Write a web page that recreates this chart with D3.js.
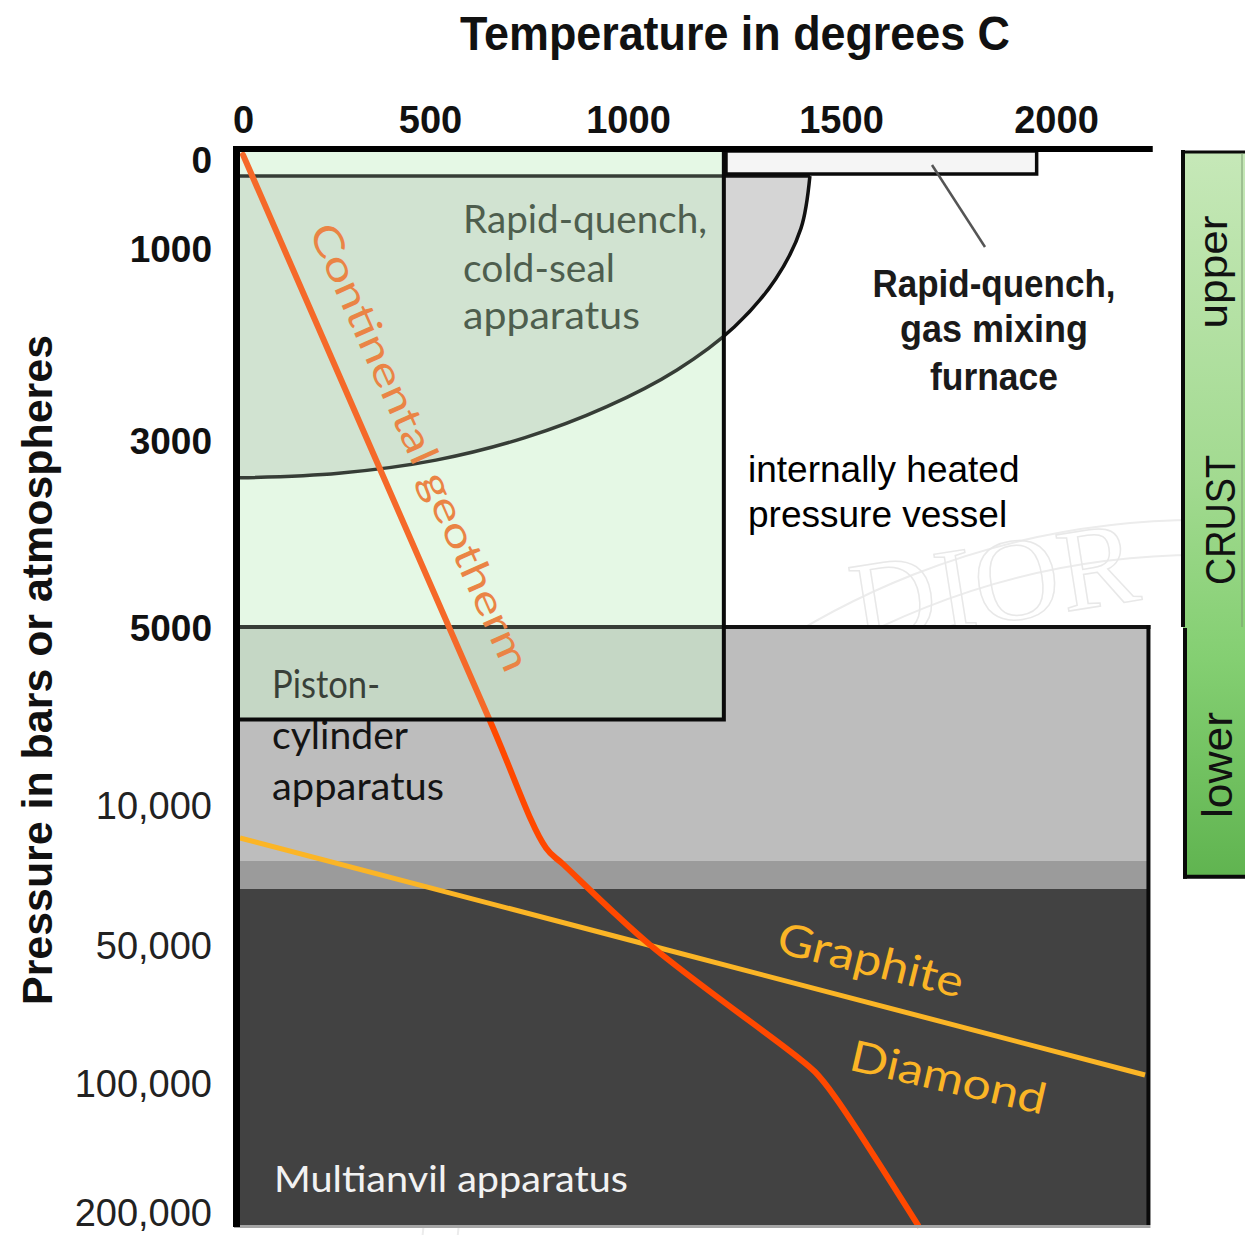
<!DOCTYPE html>
<html><head><meta charset="utf-8">
<script src="https://cdn.jsdelivr.net/npm/d3@7"></script>
<style>body{margin:0;background:#fff;overflow:hidden}</style>
</head><body>
<svg id="chart" width="1245" height="1235"></svg>
<script>
// ---------------- data ----------------
const xTickValues = [0, 500, 1000, 1500, 2000];
const xTickLabels = ["0", "500", "1000", "1500", "2000"];
const yTickValues = [0, 1000, 3000, 5000, 10000, 50000, 100000, 200000];
const yTickLabels = ["0", "1000", "3000", "5000", "10,000", "50,000", "100,000", "200,000"];

// Continental geotherm (T in °C, P in bars)
const geothermT = [8, 650, 793, 836, 1052, 1392, 1439, 1486, 1679];
const geothermP = [50, 7600, 22300, 26900, 50000, 89900, 96000, 110400, 206000];

// Graphite / diamond boundary
const graphiteT = [0, 1048, 2207];
const graphiteP = [19430, 50000, 97100];

// Rapid-quench cold-seal field boundary (curved)
const coldSealTopP = 265;
const coldSealT = [1427, 1406, 1347, 1250, 1115, 945, 740, 515, 260, 0];
const coldSealP = [265, 800, 1320, 1820, 2270, 2655, 2975, 3215, 3355, 3405];

// cold-seal box (green)
const coldBoxT = [0, 1225];
const coldBoxP = [0, 7600];

// gas mixing furnace strip
const furnaceT = [1230, 1955];
const furnaceP = [10, 245];

// apparatus pressure bands
const bandNames = ["Piston-cylinder", "transition", "Multianvil"];
const bandPmin = [5000, 26000, 34000];
const bandPmax = [26000, 34000, 206000];
const bandColors = ["#bdbdbd", "#9b9b9b", "#424242"];
const plotTmax = 2215;
const plotPmax = 206000;

// crust layers
const crustNames = ["upper", "lower"];
const crustPmin = [0, 5000];
const crustPmax = [5000, 30500];

// ---------------- scales ----------------
const svg = d3.select("#chart");
const x = d3.scaleLinear().domain(xTickValues).range([240, 430, 628, 841, 1056]);
const y = d3.scaleLinear().domain(yTickValues).range([150, 248, 440, 627, 805, 945, 1083, 1217]);

const defs = svg.append("defs");
const grad = defs.append("linearGradient").attr("id", "crustGrad")
  .attr("x1", 0).attr("y1", 0).attr("x2", 0).attr("y2", 1);
grad.append("stop").attr("offset", "0%").attr("stop-color", "#c6e8b8");
grad.append("stop").attr("offset", "45%").attr("stop-color", "#a2da90");
grad.append("stop").attr("offset", "70%").attr("stop-color", "#84cf72");
grad.append("stop").attr("offset", "100%").attr("stop-color", "#60b450");

// ---------------- faint watermark ----------------
const wm = svg.append("g").attr("fill", "none").attr("stroke", "#ececec").attr("stroke-width", 2);
wm.append("circle").attr("cx", 1200).attr("cy", 1300).attr("r", 780);
wm.append("circle").attr("cx", 1200).attr("cy", 1300).attr("r", 745);
wm.append("text").attr("transform", "translate(1000,622) rotate(-9)")
  .attr("text-anchor", "middle").attr("font-family", "Liberation Serif, serif")
  .attr("font-size", 118).attr("stroke", "#e8e8e8").attr("stroke-width", 1.5).text("DIOR");

// ---------------- cold-seal curved field (gray) ----------------
const ellPts = coldSealT.map((t, i) => [x(t), y(coldSealP[i])]);
const curveGen = d3.line().curve(d3.curveCatmullRom.alpha(0.5));
const ellPath = curveGen(ellPts);
svg.append("path")
  .attr("d", `M${x(0)},${y(coldSealTopP)}` + ellPath.replace(/^M/, "L") + "Z")
  .attr("fill", "#d5d5d5");

// ---------------- apparatus bands ----------------
svg.append("g").selectAll("rect").data(bandNames).join("rect")
  .attr("x", x(0) - 4).attr("width", x(plotTmax) - x(0) + 4)
  .attr("y", (d, i) => y(bandPmin[i]))
  .attr("height", (d, i) => y(bandPmax[i]) - y(bandPmin[i]))
  .attr("fill", (d, i) => bandColors[i]);

// ---------------- green cold-seal box (first tint) ----------------
const boxX = x(coldBoxT[0]), boxW = x(coldBoxT[1]) - x(coldBoxT[0]);
const boxY = y(coldBoxP[0]), boxH = y(coldBoxP[1]) - y(coldBoxP[0]);
svg.append("rect").attr("x", boxX).attr("y", boxY).attr("width", boxW).attr("height", boxH)
  .attr("fill", "rgb(205,241,205)").attr("fill-opacity", 0.375);

// outlines under second tint
svg.append("path").attr("d", ellPath).attr("fill", "none").attr("stroke", "#111").attr("stroke-width", 3.5);
svg.append("line").attr("x1", x(0)).attr("x2", x(coldSealT[0]))
  .attr("y1", y(coldSealTopP)).attr("y2", y(coldSealTopP))
  .attr("stroke", "#111").attr("stroke-width", 3.5);
svg.append("line").attr("x1", x(0)).attr("x2", x(plotTmax) + 2)
  .attr("y1", y(bandPmin[0])).attr("y2", y(bandPmin[0]))
  .attr("stroke", "#111").attr("stroke-width", 4);

// ---------------- graphite/diamond line ----------------
const lineGen = d3.line().x(d => x(d[0])).y(d => y(d[1]));
svg.append("path").attr("d", lineGen(graphiteT.map((t, i) => [t, graphiteP[i]])))
  .attr("fill", "none").attr("stroke", "#fbb526").attr("stroke-width", 5);

// ---------------- geotherm ----------------
const geoGen = d3.line().x(d => x(d[0])).y(d => y(d[1])).curve(d3.curveCatmullRom.alpha(0.5));
svg.append("path").attr("d", geoGen(geothermT.map((t, i) => [t, geothermP[i]])))
  .attr("fill", "none").attr("stroke", "#ff4800").attr("stroke-width", 6).attr("stroke-linecap", "round");

// ---------------- texts inside / near box ----------------
const futura = "Lato, 'Open Sans', sans-serif";
svg.append("text").attr("transform", "translate(420,447) rotate(66)")
  .attr("text-anchor", "middle").attr("dy", "0.35em")
  .attr("font-family", futura).attr("font-size", 40).attr("fill", "#f26a24")
  .attr("textLength", 486).attr("lengthAdjust", "spacingAndGlyphs")
  .text("Continental geotherm");

const csLines = ["Rapid-quench,", "cold-seal", "apparatus"];
const csLens = [244, 152, 177];
const csBase = [233, 282, 329];
svg.append("g").selectAll("text").data(csLines).join("text")
  .attr("x", 463).attr("y", (d, i) => csBase[i])
  .attr("font-family", futura).attr("font-size", 38).attr("fill", "#2f3a2f")
  .attr("textLength", (d, i) => csLens[i]).attr("lengthAdjust", "spacingAndGlyphs")
  .text(d => d);

const pcLines = ["Piston-", "cylinder", "apparatus"];
const pcLens = [108, 136, 172];
const pcBase = [698, 749, 800];
svg.append("g").selectAll("text").data(pcLines).join("text")
  .attr("x", 272).attr("y", (d, i) => pcBase[i])
  .attr("font-family", futura).attr("font-size", 38).attr("fill", "#141414")
  .attr("textLength", (d, i) => pcLens[i]).attr("lengthAdjust", "spacingAndGlyphs")
  .text(d => d);

// ---------------- second tint + box borders ----------------
svg.append("rect").attr("x", boxX).attr("y", boxY).attr("width", boxW).attr("height", boxH)
  .attr("fill", "rgb(205,241,205)").attr("fill-opacity", 0.2);
svg.append("path")
  .attr("d", `M${boxX + boxW},${boxY} V${boxY + boxH} H${boxX}`)
  .attr("fill", "none").attr("stroke", "#0a0a0a").attr("stroke-width", 4);

// piston region right border & bottom
svg.append("line").attr("x1", x(plotTmax)).attr("x2", x(plotTmax))
  .attr("y1", y(bandPmin[0]) - 2).attr("y2", y(plotPmax))
  .attr("stroke", "#0a0a0a").attr("stroke-width", 4);
svg.append("line").attr("x1", x(0) - 6).attr("x2", x(plotTmax) + 2)
  .attr("y1", y(plotPmax) + 1.5).attr("y2", y(plotPmax) + 1.5)
  .attr("stroke", "#a5a5a5").attr("stroke-width", 3);

// ---------------- apparatus labels on dark ----------------
svg.append("text").attr("x", 274).attr("y", 1192)
  .attr("font-family", futura).attr("font-size", 37).attr("fill", "#f2f2f2")
  .attr("textLength", 354).attr("lengthAdjust", "spacingAndGlyphs")
  .text("Multianvil apparatus");
svg.append("text").attr("transform", "translate(867,975) rotate(14)")
  .attr("text-anchor", "middle").attr("font-family", futura).attr("font-size", 44)
  .attr("fill", "#fbb526").attr("textLength", 190).attr("lengthAdjust", "spacingAndGlyphs")
  .text("Graphite");
svg.append("text").attr("transform", "translate(945,1092) rotate(13)")
  .attr("text-anchor", "middle").attr("font-family", futura).attr("font-size", 43)
  .attr("fill", "#fbb526").attr("textLength", 200).attr("lengthAdjust", "spacingAndGlyphs")
  .text("Diamond");

// ---------------- gas mixing furnace ----------------
svg.append("rect")
  .attr("x", x(furnaceT[0])).attr("y", y(furnaceP[0]))
  .attr("width", x(furnaceT[1]) - x(furnaceT[0]))
  .attr("height", y(furnaceP[1]) - y(furnaceP[0]))
  .attr("fill", "#f5f5f5").attr("stroke", "#0a0a0a").attr("stroke-width", 3.5);
svg.append("line").attr("x1", 932).attr("y1", 165).attr("x2", 985).attr("y2", 247)
  .attr("stroke", "#555").attr("stroke-width", 2.5);
const gfLines = ["Rapid-quench,", "gas mixing", "furnace"];
const gfLens = [243, 188, 128];
const gfBase = [297, 342, 390];
svg.append("g").selectAll("text").data(gfLines).join("text")
  .attr("x", 994).attr("y", (d, i) => gfBase[i]).attr("text-anchor", "middle")
  .attr("font-family", "Liberation Sans, Arial, sans-serif").attr("font-weight", "bold")
  .attr("font-size", 38).attr("fill", "#1a1a1a")
  .attr("textLength", (d, i) => gfLens[i]).attr("lengthAdjust", "spacingAndGlyphs")
  .text(d => d);

// internally heated pressure vessel
const ihLines = ["internally heated", "pressure vessel"];
svg.append("g").selectAll("text").data(ihLines).join("text")
  .attr("x", 748).attr("y", (d, i) => 482 + i * 45)
  .attr("font-family", "Liberation Sans, Arial, sans-serif")
  .attr("font-size", 37).attr("fill", "#000")
  .text(d => d);

// ---------------- axes ----------------
svg.append("line").attr("x1", 233).attr("x2", x(2225))
  .attr("y1", y(0) - 1).attr("y2", y(0) - 1)
  .attr("stroke", "#000").attr("stroke-width", 6);
svg.append("line").attr("x1", 236.5).attr("x2", 236.5)
  .attr("y1", y(0) - 4).attr("y2", y(plotPmax) + 2)
  .attr("stroke", "#000").attr("stroke-width", 7);

const xAxis = d3.axisTop(x).tickValues(xTickValues)
  .tickFormat((d, i) => xTickLabels[i]).tickSize(0).tickPadding(17);
const gx = svg.append("g").attr("transform", `translate(0,${y(0)})`).call(xAxis);
gx.select(".domain").remove();
gx.selectAll("text").attr("font-family", "Liberation Sans, Arial, sans-serif")
  .attr("font-weight", "bold").attr("font-size", 38).attr("fill", "#111")
  .attr("transform", (d) => d === 0 ? "translate(3,0)" : null);

const yAxis = d3.axisLeft(y).tickValues(yTickValues)
  .tickFormat((d, i) => yTickLabels[i]).tickSize(0).tickPadding(24);
const gy = svg.append("g").attr("transform", "translate(236,0)").call(yAxis);
gy.select(".domain").remove();
gy.selectAll("text").attr("font-family", "Liberation Sans, Arial, sans-serif")
  .attr("font-weight", d => d <= 5000 ? "bold" : "normal")
  .attr("font-size", d => d <= 5000 ? 37 : 38)
  .attr("fill", d => d <= 5000 ? "#111" : "#222")
  .attr("dy", d => d === 0 ? "0.62em" : (d === 200000 ? "0.22em" : "0.36em"));

// titles
svg.append("text").attr("x", 735).attr("y", 50).attr("text-anchor", "middle")
  .attr("font-family", "Liberation Sans, Arial, sans-serif").attr("font-weight", "bold")
  .attr("font-size", 48).attr("fill", "#111")
  .attr("textLength", 550).attr("lengthAdjust", "spacingAndGlyphs")
  .text("Temperature in degrees C");
svg.append("text").attr("transform", "translate(52,670) rotate(-90)").attr("text-anchor", "middle")
  .attr("font-family", "Liberation Sans, Arial, sans-serif").attr("font-weight", "bold")
  .attr("font-size", 42).attr("fill", "#111")
  .attr("textLength", 670).attr("lengthAdjust", "spacingAndGlyphs")
  .text("Pressure in bars or atmospheres");

// ---------------- crust bar ----------------
const crustX = 1183, crustW = 70;
const cg = svg.append("g");
cg.append("rect").attr("x", crustX).attr("y", y(crustPmin[0]) + 2)
  .attr("width", crustW).attr("height", y(crustPmax[1]) - y(crustPmin[0]) - 2)
  .attr("fill", "url(#crustGrad)");
cg.selectAll("line.layer").data(crustNames).join("line").attr("class", "layer")
  .attr("x1", (d, i) => crustX + i * 2).attr("x2", (d, i) => crustX + i * 2)
  .attr("y1", (d, i) => y(crustPmin[i]) + (i === 0 ? 0 : 1))
  .attr("y2", (d, i) => y(crustPmax[i]) + (i === 1 ? 2 : 0))
  .attr("stroke", "#0a0a0a").attr("stroke-width", 4);
cg.append("line").attr("x1", crustX - 2).attr("x2", 1245)
  .attr("y1", y(crustPmin[0]) + 2).attr("y2", y(crustPmin[0]) + 2)
  .attr("stroke", "#0a0a0a").attr("stroke-width", 3);
cg.append("line").attr("x1", crustX).attr("x2", 1245)
  .attr("y1", y(crustPmax[1])).attr("y2", y(crustPmax[1]))
  .attr("stroke", "#0a0a0a").attr("stroke-width", 4);
cg.append("line").attr("x1", 1242).attr("x2", 1242)
  .attr("y1", y(crustPmin[0]) + 3).attr("y2", y(crustPmax[0]))
  .attr("stroke", "#7a9a70").attr("stroke-width", 1);

const crustLabels = [
  {t: "upper", cx: 272, len: 113, bx: 1227, fs: 40},
  {t: "CRUST", cx: 520, len: 130, bx: 1235, fs: 42},
  {t: "lower", cx: 765, len: 106, bx: 1232, fs: 42}
];
cg.selectAll("text").data(crustLabels).join("text")
  .attr("transform", d => `translate(${d.bx},${d.cx}) rotate(-90)`)
  .attr("text-anchor", "middle")
  .attr("font-family", "Liberation Sans, Arial, sans-serif")
  .attr("font-size", d => d.fs).attr("fill", "#111")
  .attr("textLength", d => d.len).attr("lengthAdjust", "spacingAndGlyphs")
  .text(d => d.t);
</script>
</body></html>
